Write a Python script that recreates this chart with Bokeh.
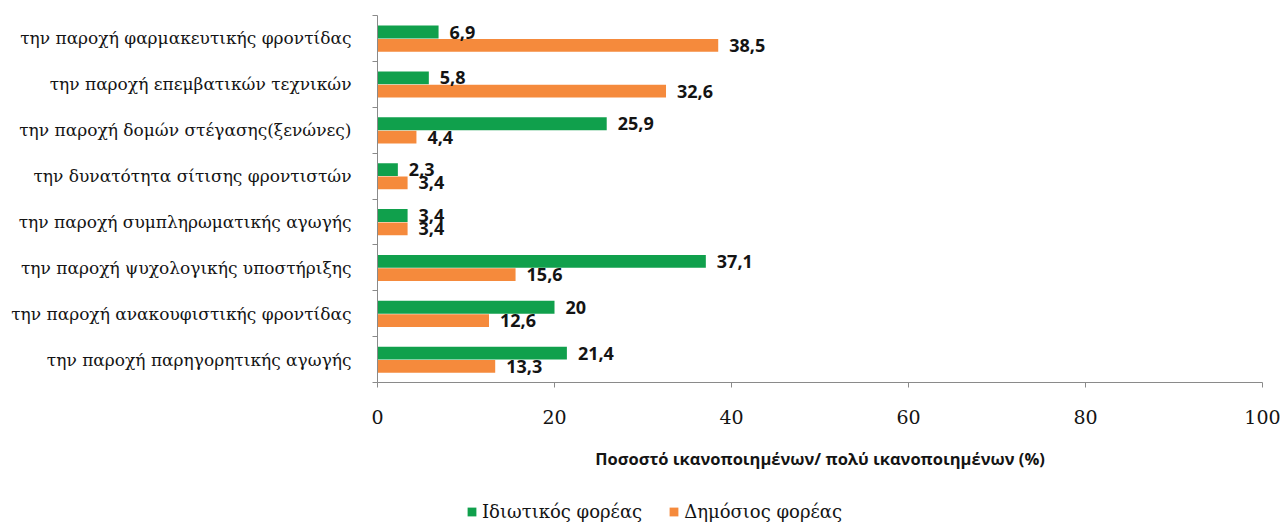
from bokeh.plotting import figure
from bokeh.layouts import column
from bokeh.models import (FixedTicker, Range1d, Legend, LegendItem,
                          ColumnDataSource, LabelSet)
from bokeh.core.properties import value
from bokeh.embed import file_html
from bokeh.resources import INLINE

# Service categories, listed top to bottom
categories = [
    "την παροχή φαρμακευτικής φροντίδας",
    "την παροχή επεμβατικών τεχνικών",
    "την παροχή δομών στέγασης(ξενώνες)",
    "την δυνατότητα σίτισης φροντιστών",
    "την παροχή συμπληρωματικής αγωγής",
    "την παροχή ψυχολογικής υποστήριξης",
    "την παροχή ανακουφιστικής φροντίδας",
    "την παροχή παρηγορητικής αγωγής",
]
private_sector = [6.9, 5.8, 25.9, 2.3, 3.4, 37.1, 20, 21.4]
public_sector = [38.5, 32.6, 4.4, 3.4, 3.4, 15.6, 12.6, 13.3]
series_names = ["Ιδιωτικός φορέας", "Δημόσιος φορέας"]
x_ticks = [0, 20, 40, 60, 80, 100]
x_title = "Ποσοστό ικανοποιημένων/ πολύ ικανοποιημένων (%)"

GREEN = "#10a04c"
ORANGE = "#f58a3c"
TEXT = "#141414"
AXIS = "#8a8a8a"

n = len(categories)
centers = [n - 0.5 - i for i in range(n)]
bar_h = 0.28


def fmt(v):
    return f"{v:g}".replace(".", ",")


src_priv = ColumnDataSource(dict(
    y=[c + 0.14 for c in centers], x=private_sector,
    label=[fmt(v) for v in private_sector]))
src_pub = ColumnDataSource(dict(
    y=[c - 0.15 for c in centers], x=public_sector,
    label=[fmt(v) for v in public_sector]))

p = figure(width=1282, height=480,
           x_range=Range1d(0, 100), y_range=Range1d(0, n),
           output_backend="svg", toolbar_location=None,
           min_border_left=377, min_border_right=20,
           min_border_top=15, min_border_bottom=98)
p.outline_line_color = None
p.xgrid.visible = False
p.ygrid.visible = False
p.background_fill_color = "white"
p.border_fill_color = "white"

p.hbar(y="y", right="x", left=0, height=bar_h, source=src_priv,
       fill_color=GREEN, line_color=None)
p.hbar(y="y", right="x", left=0, height=bar_h, source=src_pub,
       fill_color=ORANGE, line_color=None)

for src in (src_priv, src_pub):
    p.add_layout(LabelSet(x="x", y="y", text="label", source=src,
                          x_offset=11, text_baseline="middle",
                          text_font=value("Open Sans"), text_font_style="bold",
                          text_font_size="18px", text_color=TEXT))

# x axis with its title
xa = p.xaxis[0]
xa.ticker = FixedTicker(ticks=x_ticks)
xa.axis_line_color = AXIS
xa.major_tick_line_color = AXIS
xa.major_tick_out = 5
xa.major_tick_in = 0
xa.minor_tick_line_color = None
xa.major_label_standoff = 22
xa.major_label_text_font = "DejaVu Serif"
xa.major_label_text_font_size = "19px"
xa.major_label_text_color = TEXT
xa.axis_label = x_title
xa.axis_label_standoff = 20
xa.axis_label_text_font = "Open Sans"
xa.axis_label_text_font_style = "bold"
xa.axis_label_text_font_size = "16.5px"
xa.axis_label_text_color = TEXT

# y axis: labels at category centres, short ticks at category boundaries
ya = p.yaxis[0]
ya.ticker = FixedTicker(ticks=centers, minor_ticks=list(range(n + 1)))
ya.major_label_overrides = {c: lab for c, lab in zip(centers, categories)}
ya.axis_line_color = AXIS
ya.major_tick_line_color = None
ya.major_tick_out = 0
ya.major_tick_in = 0
ya.minor_tick_line_color = AXIS
ya.minor_tick_out = 5
ya.minor_tick_in = 0
ya.major_label_standoff = 21
ya.major_label_text_font = "DejaVu Serif"
ya.major_label_text_font_size = "17px"
ya.major_label_text_color = TEXT

# legend strip below the chart; its swatches come from zero-size proxy bars
leg = figure(width=1282, height=42, x_range=Range1d(0, 1), y_range=Range1d(0, 1),
             output_backend="svg", toolbar_location=None,
             x_axis_location=None, y_axis_location=None,
             min_border_left=0, min_border_right=0,
             min_border_top=0, min_border_bottom=0)
leg.outline_line_color = None
leg.xgrid.visible = False
leg.ygrid.visible = False
proxy = ColumnDataSource(dict(y=[0], left=[0], right=[0]))
sw_priv = leg.hbar(y="y", left="left", right="right", height=0, source=proxy,
                   fill_color=GREEN, line_color=None)
sw_pub = leg.hbar(y="y", left="left", right="right", height=0, source=proxy,
                  fill_color=ORANGE, line_color=None)

legend = Legend(items=[LegendItem(label=series_names[0], renderers=[sw_priv]),
                       LegendItem(label=series_names[1], renderers=[sw_pub])],
                orientation="horizontal", location=(89, 0),
                glyph_width=11, glyph_height=11, label_standoff=5,
                spacing=26, padding=0, margin=0,
                label_text_font="DejaVu Serif", label_text_font_size="18px",
                label_text_color=TEXT, label_height=16,
                border_line_alpha=0, background_fill_alpha=0)
leg.add_layout(legend, "center")

open("out.html", "w").write(file_html(column(p, leg, spacing=0), INLINE))
